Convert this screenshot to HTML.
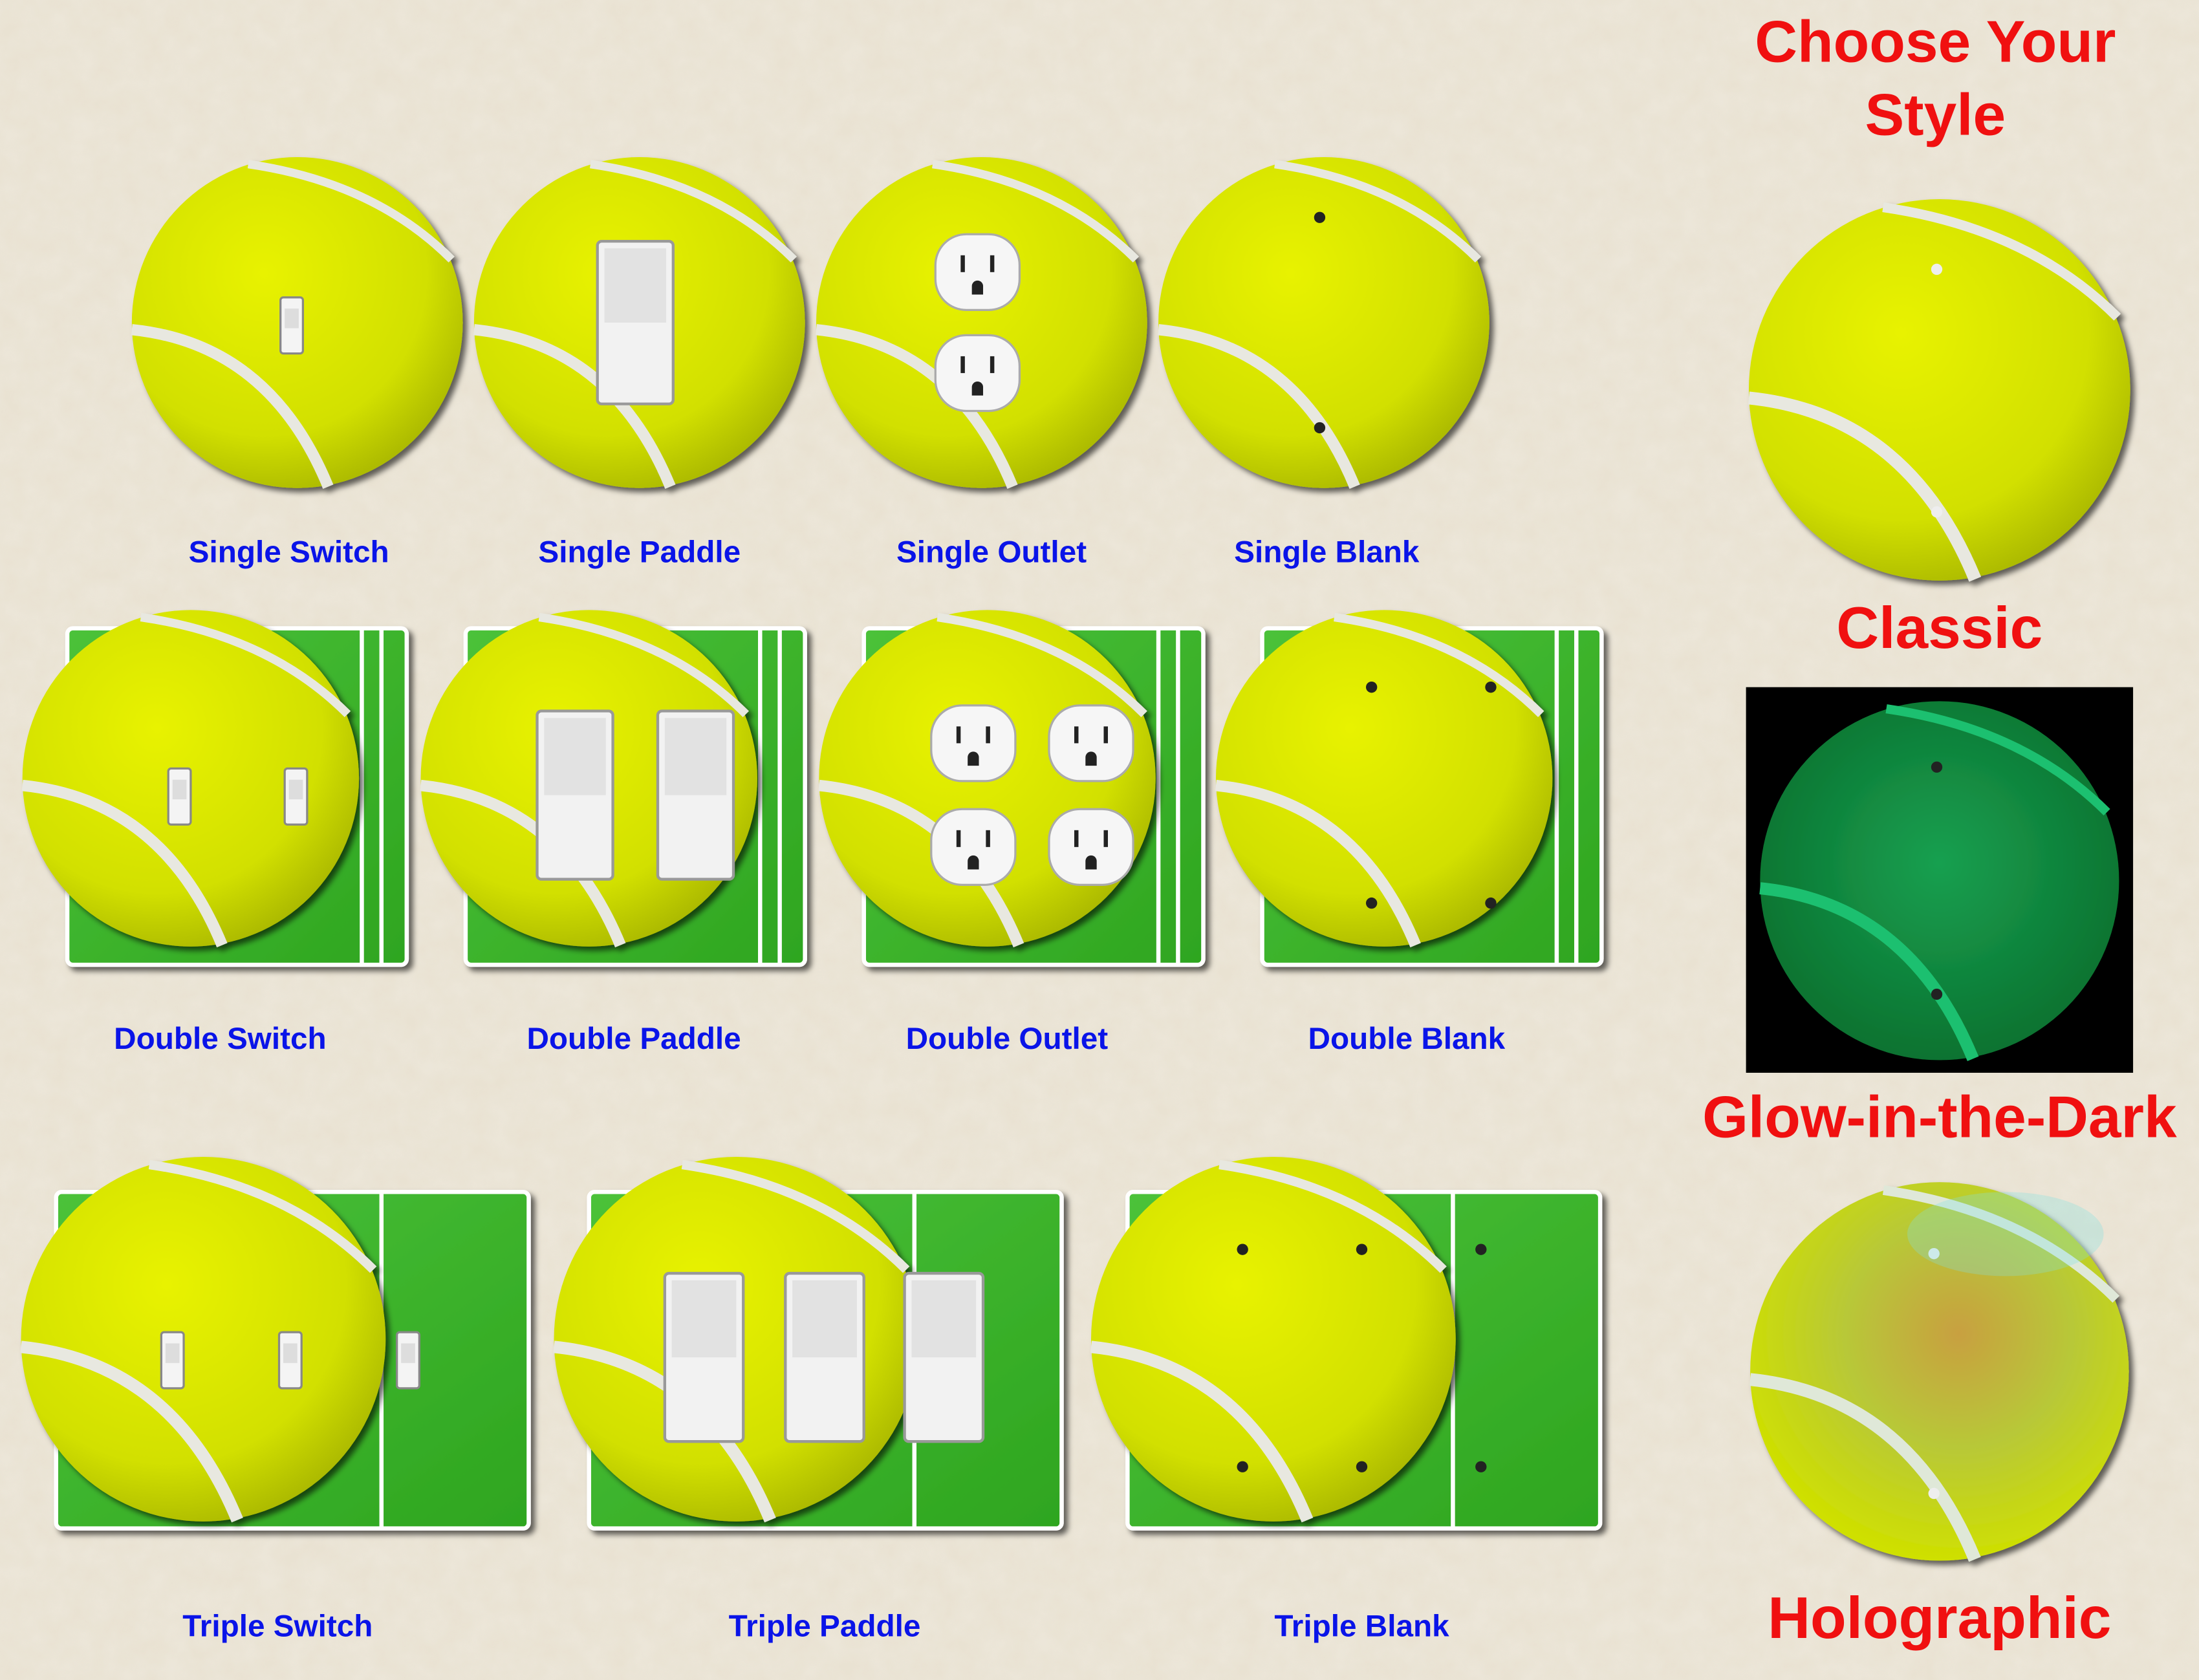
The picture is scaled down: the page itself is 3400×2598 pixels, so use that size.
<!DOCTYPE html>
<html><head><meta charset="utf-8"><style>
html,body{margin:0;padding:0;width:3400px;height:2598px;overflow:hidden;background:#e9e2d2}
svg{display:block}
text{font-family:"Liberation Sans",sans-serif;font-weight:bold;text-anchor:middle}
</style></head><body>
<svg id="s" width="3400" height="2598" viewBox="0 0 1568 1198" xmlns="http://www.w3.org/2000/svg">
<defs>
<filter id="tex" x="0" y="0" width="100%" height="100%"><feTurbulence type="fractalNoise" baseFrequency="0.06" numOctaves="3" seed="3"/><feColorMatrix type="matrix" values="0 0 0 0 0.88  0 0 0 0 0.85  0 0 0 0 0.78  0 0 0 -0.9 0.75"/></filter>
<radialGradient id="ball" cx="40%" cy="35%" r="70%"><stop offset="0" stop-color="#e8f200"/><stop offset="0.7" stop-color="#d2e000"/><stop offset="1" stop-color="#a8b600"/></radialGradient>
<radialGradient id="glow" cx="50%" cy="45%" r="65%"><stop offset="0" stop-color="#17a050"/><stop offset="1" stop-color="#0a6a2a"/></radialGradient>
<radialGradient id="holo" cx="55%" cy="40%" r="60%"><stop offset="0" stop-color="#c8a040"/><stop offset="0.5" stop-color="#b8c838"/><stop offset="1" stop-color="#cfe000"/></radialGradient>
<linearGradient id="court" x1="0" y1="0" x2="1" y2="1"><stop offset="0" stop-color="#4cc23a"/><stop offset="1" stop-color="#2ea51f"/></linearGradient>
<filter id="sh"><feDropShadow dx="3" dy="3" stdDeviation="2" flood-color="#000" flood-opacity="0.6"/></filter>
</defs>
<rect width="1568" height="1198" fill="#e9e2d2"/>
<rect width="1568" height="1198" filter="url(#tex)" opacity="0.6"/>
<g id="g"></g>
</svg>
<script>
const g=document.getElementById('g');
const NS='http://www.w3.org/2000/svg';
function el(t,a,p){const e=document.createElementNS(NS,t);for(const k in a)e.setAttribute(k,a[k]);(p||g).appendChild(e);return e;}
function ball(cx,cy,r,fill,seam,name){
  const grp=el('g',{filter:'url(#sh)'});
  
  
  el('circle',{cx,cy,r,fill:fill},grp);
  const k=r/118;
  el('path',{d:`M${cx-r} ${cy+5*k} Q${cx-20*k} ${cy+15*k} ${cx+22*k} ${cy+r-1}`,fill:'none',stroke:seam,'stroke-width':8*k},grp);
  el('path',{d:`M${cx-35*k} ${cy-r+5*k} Q${cx+55*k} ${cy-100*k} ${cx+r-8*k} ${cy-45*k}`,fill:'none',stroke:seam,'stroke-width':6*k},grp);
  return grp;
}
function plate(x,y,w,h,lines,name){
  const r=el('rect',{x,y,width:w,height:h,rx:4,fill:'url(#court)',stroke:'#fff','stroke-width':3,filter:'url(#sh)'});
  
  
  lines.forEach(lx=>el('line',{x1:lx,y1:y,x2:lx,y2:y+h,stroke:'#fff','stroke-width':3}));
}
function toggle(x,y){const e=el('rect',{x:x-8,y:y-20,width:16,height:40,rx:2,fill:'#f4f4f4',stroke:'#888','stroke-width':1.5});el('rect',{x:x-5,y:y-12,width:10,height:14,fill:'#ddd'});}
function paddle(x,y,w,h){const e=el('rect',{x:x-w/2,y:y-h/2,width:w,height:h,rx:3,fill:'#f2f2f2',stroke:'#999','stroke-width':2});el('rect',{x:x-w/2+5,y:y-h/2+5,width:w-10,height:h/2-5,fill:'#e2e2e2'});}
function outlet(x,y){const e=el('rect',{x:x-30,y:y-27,width:60,height:54,rx:22,fill:'#f6f6f6',stroke:'#aaa','stroke-width':1.5});el('rect',{x:x-12,y:y-12,width:3,height:12,fill:'#222'});el('rect',{x:x+9,y:y-12,width:3,height:12,fill:'#222'});el('path',{d:`M${x-4} ${y+16} v-6 a4 4 0 0 1 8 0 v6 z`,fill:'#222'});}
function hole(x,y,c){el('circle',{cx:x,cy:y,r:4,fill:c||'#222'});}
function label(x,y,t,size,col,name){const e=el('text',{x,y,'font-size':size,fill:col});e.textContent=t;}
// Singles
ball(212,230,118,'url(#ball)','#e8e8e0','single-switch-plate'); toggle(208,232);
ball(456,230,118,'url(#ball)','#e8e8e0','single-paddle-plate'); paddle(453,230,54,116);
ball(700,230,118,'url(#ball)','#e8e8e0','single-outlet-plate'); outlet(697,194); outlet(697,266);
ball(944,230,118,'url(#ball)','#e8e8e0','single-blank-plate'); hole(941,155); hole(941,305);
label(206,401,'Single Switch',22,'#0a14e8','label-single-switch');
label(456,401,'Single Paddle',22,'#0a14e8','label-single-paddle');
label(707,401,'Single Outlet',22,'#0a14e8','label-single-outlet');
label(946,401,'Single Blank',22,'#0a14e8','label-single-blank');
// Doubles
[[48,'double-switch'],[332,'double-paddle'],[616,'double-outlet'],[900,'double-blank']].forEach(([x,n])=>plate(x,448,242,240,[x+210,x+224],n+'-court'));
ball(136,555,120,'url(#ball)','#e8e8e0','double-switch-plate'); toggle(128,568); toggle(211,568);
ball(420,555,120,'url(#ball)','#e8e8e0','double-paddle-plate'); paddle(410,567,54,120); paddle(496,567,54,120);
ball(704,555,120,'url(#ball)','#e8e8e0','double-outlet-plate'); outlet(694,530); outlet(778,530); outlet(694,604); outlet(778,604);
ball(987,555,120,'url(#ball)','#e8e8e0','double-blank-plate'); hole(978,490); hole(1063,490); hole(978,644); hole(1063,644);
label(157,748,'Double Switch',22,'#0a14e8','label-double-switch');
label(452,748,'Double Paddle',22,'#0a14e8','label-double-paddle');
label(718,748,'Double Outlet',22,'#0a14e8','label-double-outlet');
label(1003,748,'Double Blank',22,'#0a14e8','label-double-blank');
// Triples
[[40,'triple-switch'],[420,'triple-paddle'],[804,'triple-blank']].forEach(([x,n])=>plate(x,850,337,240,[x+232],n+'-court'));
ball(145,955,130,'url(#ball)','#e8e8e0','triple-switch-plate'); toggle(123,970); toggle(207,970); toggle(291,970);
ball(525,955,130,'url(#ball)','#e8e8e0','triple-paddle-plate'); paddle(502,968,56,120); paddle(588,968,56,120); paddle(673,968,56,120);
ball(908,955,130,'url(#ball)','#e8e8e0','triple-blank-plate'); [886,971,1056].forEach(x=>{hole(x,891);hole(x,1046);});
label(198,1167,'Triple Switch',22,'#0a14e8','label-triple-switch');
label(588,1167,'Triple Paddle',22,'#0a14e8','label-triple-paddle');
label(971,1167,'Triple Blank',22,'#0a14e8','label-triple-blank');
// Right column
label(1380,44,'Choose Your',42,'#f01010','title-line-1');
label(1380,96,'Style',42,'#f01010','title-line-2');
ball(1383,278,136,'url(#ball)','#e8e8e0','classic-style'); hole(1381,192,'#eee'); hole(1381,365,'#eee');
label(1383,462,'Classic',42,'#f01010','label-classic');
const bk=el('rect',{x:1245,y:490,width:276,height:275,fill:'#000'});
ball(1383,628,128,'url(#glow)','#1fc070','glow-style'); hole(1381,547); hole(1381,709);
label(1383,811,'Glow-in-the-Dark',42,'#f01010','label-glow');
ball(1383,978,135,'url(#holo)','#dfe8d8','holographic-style'); hole(1379,894,'#eee'); hole(1379,1065,'#eee');
el('ellipse',{cx:1430,cy:880,rx:70,ry:30,fill:'#80e0e0',opacity:0.3});
label(1383,1168,'Holographic',42,'#f01010','label-holographic');
</script>
</body></html>
